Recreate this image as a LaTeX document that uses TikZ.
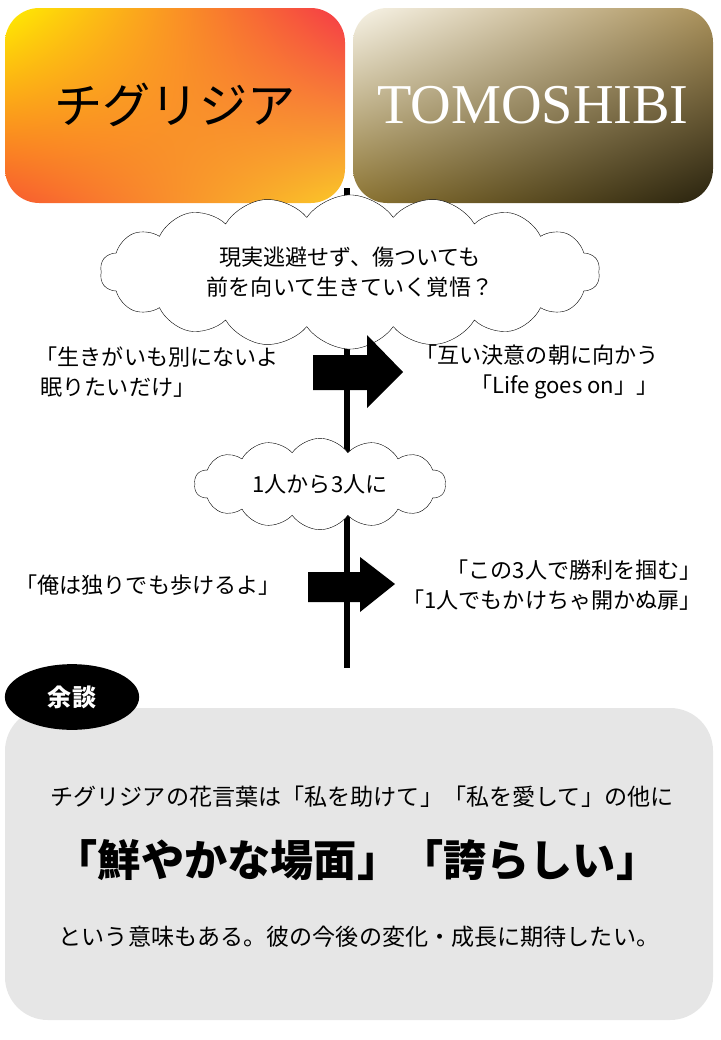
\documentclass[tikz,border=0pt]{standalone}
\usepackage{fontspec}
\setmainfont{Noto Sans CJK JP}
\newfontfamily\latinserif{Liberation Serif}
\usetikzlibrary{shapes.symbols,shapes.geometric,shadings}

\definecolor{talkgrey}{HTML}{E6E6E6}
\definecolor{flowerA}{HTML}{FFEE00}
\definecolor{flowerB}{HTML}{F53848}
\definecolor{flowerC}{HTML}{F85A30}
\definecolor{flowerD}{HTML}{FAC828}
\definecolor{lampA}{HTML}{F8F4E8}
\definecolor{lampB}{HTML}{AA915A}
\definecolor{lampC}{HTML}{8C7432}
\definecolor{lampD}{HTML}{28220E}
\tikzset{
  thought/.style={cloud, draw, fill=white, cloud puffs=18, cloud puff arc=110, aspect=3.5},
  lyric/.style={align=center, font=\fontsize{22}{30}\selectfont}
}

\begin{document}
\begin{tikzpicture}[x=0.035cm, y=-0.035cm]
    \useasboundingbox (0,0) rectangle (720,1040);
    % title boxes
    \shade[rounded corners=1.2cm, upper left=flowerA, upper right=flowerB,
      lower left=flowerC, lower right=flowerD]
      (5,8) rectangle (345,203);
    \node (chig) at (175,105) {\fontsize{48}{48}\selectfont チグリジア};
    \shade[rounded corners=1.2cm, upper left=lampA, upper right=lampB,
      lower left=lampC, lower right=lampD]
      (353,8) rectangle (713,203);
    \node[text=white] (tomo) at (533,105) {\latinserif\fontsize{56}{56}\selectfont TOMOSHIBI};
    % time line
    \coordinate (top) at (347,188);
    \coordinate (bottom) at (347,668);
    \draw[line width=6pt] (top) -- (bottom);
    % clouds
    \node[thought, minimum width=17.5cm, minimum height=3.9cm, lyric] (q1) at (350,272)
      {現実逃避せず、傷ついても\\前を向いて生きていく覚悟？};
    \node[thought, minimum width=8.8cm, minimum height=3.2cm, lyric, cloud puffs=14] (q2) at (320,484) {1人から3人に};
    % first change
    \node[lyric, align=left] (l1) at (157,372) {「生きがいも別にないよ\\\ 眠りたいだけ」};
    \fill (313,355) -- (367,355) -- (367,335) -- (403,372) -- (367,408) -- (367,390) -- (313,390) -- cycle;
    \node[lyric, align=right] (r1) at (537,372) {「互い決意の朝に向かう\\「Life goes on」」};
    % second change
    \node[lyric] (l2) at (148,585) {「俺は独りでも歩けるよ」};
    \fill (308,572) -- (360,572) -- (360,557) -- (395,584) -- (360,612) -- (360,602) -- (308,602) -- cycle;
    \node[lyric, align=right] (r2) at (552,585) {「この3人で勝利を掴む」\\「1人でもかけちゃ開かぬ扉」};
    % side talk
    \fill[talkgrey, rounded corners=1.5cm] (5,708) rectangle (713,1020);
    \node[ellipse, fill=black, text=white, minimum width=4.7cm, minimum height=2.3cm,
      font=\fontsize{24}{24}\selectfont\bfseries] (yodan) at (72,697) {余談};
    \node[font=\fontsize{23}{23}\selectfont] (t1) at (362,797) {チグリジアの花言葉は「私を助けて」「私を愛して」の他に};
    \node[font=\fontsize{43}{43}\selectfont\bfseries] (t2) at (357,860) {「鮮やかな場面」「誇らしい」};
    \node[font=\fontsize{23}{23}\selectfont] (t3) at (359,937) {という意味もある。彼の今後の変化・成長に期待したい。};
\end{tikzpicture}
\end{document}
